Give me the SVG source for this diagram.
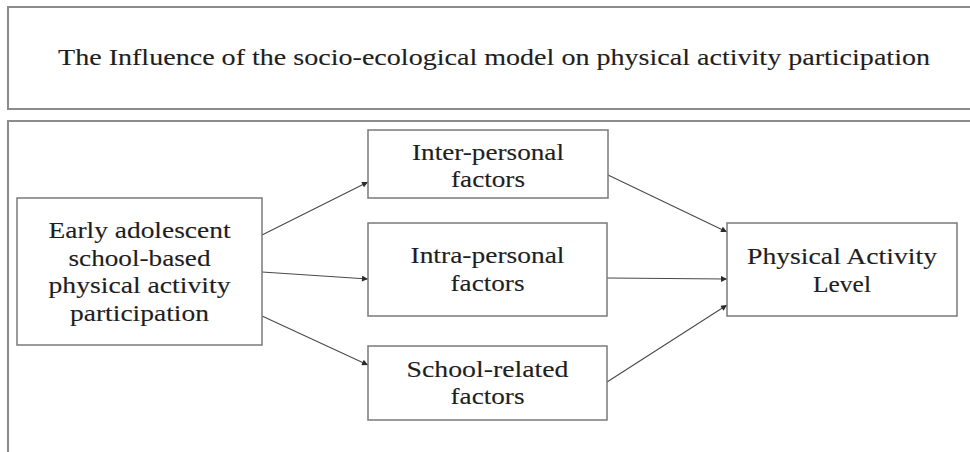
<svg xmlns="http://www.w3.org/2000/svg" width="970" height="452" viewBox="0 0 970 452">
  <style>
    .frame { fill: none; stroke: #8c8c8c; stroke-width: 2; }
    .box { fill: #ffffff; stroke: #7a7a7a; stroke-width: 1.5; }
    .lbl { font-family: "Liberation Serif", "Times New Roman", serif; font-size: 23px; fill: #1e1e1e; stroke: #1e1e1e; stroke-width: 0.12; text-anchor: middle; }
    .title { font-size: 24px; }
    .conn { fill: none; stroke: #4a4a4a; stroke-width: 1.1; marker-end: url(#head); }
  </style>
  <defs>
    <marker id="head" viewBox="0 0 10 10" refX="10" refY="5" markerWidth="7" markerHeight="6" markerUnits="userSpaceOnUse" orient="auto">
      <path d="M0,0 L10,5 L0,10 z" fill="#2a2a2a"/>
    </marker>
  </defs>
  <rect width="970" height="452" fill="#ffffff"/>

  <!-- title band -->
  <g id="title">
    <rect class="frame" x="8" y="7" width="980" height="102"/>
    <text class="lbl title" x="494" y="65" textLength="872" lengthAdjust="spacingAndGlyphs">The Influence of the socio-ecological model on physical activity participation</text>
  </g>

  <!-- model panel (open on the right and bottom) -->
  <g id="panel">
    <rect class="frame" x="8" y="121" width="980" height="360"/>
  </g>

  <!-- connectors -->
  <g id="connectors">
    <line class="conn" x1="262" y1="235" x2="368" y2="182"/>
    <line class="conn" x1="262" y1="272" x2="368" y2="279"/>
    <line class="conn" x1="262" y1="316" x2="368" y2="365"/>
    <line class="conn" x1="608" y1="175" x2="727" y2="232"/>
    <line class="conn" x1="607" y1="278" x2="727" y2="279"/>
    <line class="conn" x1="607" y1="382" x2="727" y2="305"/>
  </g>

  <g id="source">
    <rect class="box" x="17" y="198" width="245" height="147"/>
    <text class="lbl" x="139.5" y="238" textLength="182" lengthAdjust="spacingAndGlyphs">Early adolescent</text>
    <text class="lbl" x="139.5" y="266" textLength="142" lengthAdjust="spacingAndGlyphs">school-based</text>
    <text class="lbl" x="139.5" y="293" textLength="182" lengthAdjust="spacingAndGlyphs">physical activity</text>
    <text class="lbl" x="139.5" y="321" textLength="139" lengthAdjust="spacingAndGlyphs">participation</text>
  </g>

  <g id="inter">
    <rect class="box" x="368" y="130" width="240" height="68"/>
    <text class="lbl" x="488" y="160" textLength="152" lengthAdjust="spacingAndGlyphs">Inter-personal</text>
    <text class="lbl" x="488" y="187" textLength="74" lengthAdjust="spacingAndGlyphs">factors</text>
  </g>

  <g id="intra">
    <rect class="box" x="368" y="223" width="239" height="93"/>
    <text class="lbl" x="487.5" y="263" textLength="154" lengthAdjust="spacingAndGlyphs">Intra-personal</text>
    <text class="lbl" x="487.5" y="291" textLength="74" lengthAdjust="spacingAndGlyphs">factors</text>
  </g>

  <g id="school">
    <rect class="box" x="368" y="346" width="239" height="74"/>
    <text class="lbl" x="487.5" y="377" textLength="162" lengthAdjust="spacingAndGlyphs">School-related</text>
    <text class="lbl" x="487.5" y="404" textLength="74" lengthAdjust="spacingAndGlyphs">factors</text>
  </g>

  <g id="outcome">
    <rect class="box" x="727" y="223" width="230" height="93"/>
    <text class="lbl" x="842" y="264" textLength="190" lengthAdjust="spacingAndGlyphs">Physical Activity</text>
    <text class="lbl" x="842" y="292" textLength="58" lengthAdjust="spacingAndGlyphs">Level</text>
  </g>
</svg>
